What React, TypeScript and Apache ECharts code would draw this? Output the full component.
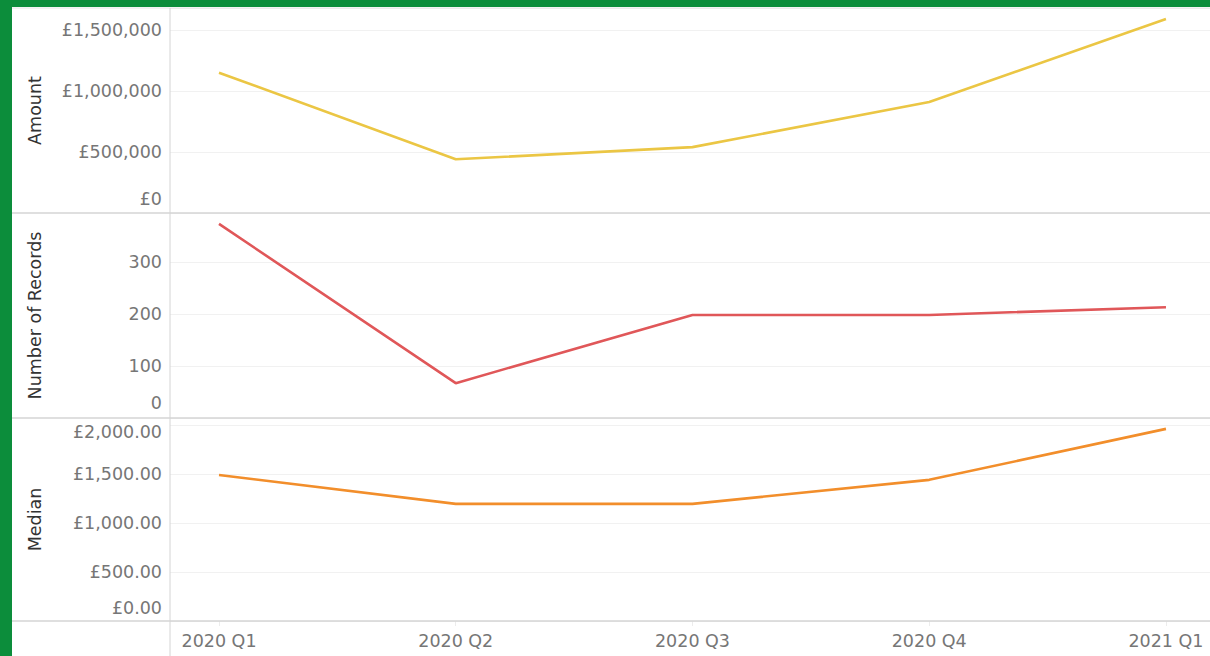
import React, { useEffect, useRef } from "react";
import * as echarts from "echarts";

const categories = ["2020 Q1", "2020 Q2", "2020 Q3", "2020 Q4", "2021 Q1"];
const amount = [1150000, 440000, 540000, 910000, 1590000];
const records = [373, 67, 198, 198, 213];
const median = [1490, 1195, 1195, 1440, 1960];
const amountTicks = [0, 500000, 1000000, 1500000];
const recordTicks = [0, 100, 200, 300];
const medianTicks = [0, 500, 1000, 1500, 2000];

const FONT = "DejaVu Sans";
const FS = 17.5;
const LABEL_COLOR = "#767676";
const TITLE_COLOR = "#333333";
const GRID_COLOR = "#f1f1f1";
const SEP_COLOR = "#d4d4d4";
const GREEN = "#0c8d3b";

const fmtInt = (v: number) => Math.round(v).toLocaleString("en-GB");
const fmt2 = (v: number) =>
  v.toLocaleString("en-GB", { minimumFractionDigits: 2, maximumFractionDigits: 2 });

export default function App() {
  const ref = useRef<HTMLDivElement>(null);
  useEffect(() => {
    if (!ref.current) return;
    const chart = echarts.init(ref.current, null, { renderer: "svg" });
    const L = 170;
    const grids = [
      { left: L, right: 0, top: 8, height: 205 },
      { left: L, right: 0, top: 213, height: 205 },
      { left: L, right: 0, top: 418, height: 203 },
    ];
    const xMin = -0.207;
    const xMax = 4.186;
    const xAxes = grids.map((_, i) => ({
      type: "value",
      gridIndex: i,
      min: xMin,
      max: xMax,
      splitLine: { show: false },
      axisLine: { show: false },
      axisTick:
        i === 2
          ? { show: true, customValues: [0, 1, 2, 3, 4], length: 5, lineStyle: { color: "#ececec" } }
          : { show: false },
      axisLabel:
        i === 2
          ? {
              show: true,
              customValues: [0, 1, 2, 3, 4],
              formatter: (v: number) => categories[Math.round(v)] ?? "",
              color: LABEL_COLOR,
              fontFamily: FONT,
              fontSize: FS,
              margin: 11,
            }
          : { show: false },
    }));
    const base = { color: LABEL_COLOR, fontFamily: FONT, fontSize: FS };
    const rich = {
      lo: { ...base, padding: [0, 0, 28, 0] },
      lo2: { ...base, padding: [0, 0, 30, 0] },
      lo3: { ...base, padding: [0, 0, 26, 0] },
      hi: { ...base, padding: [14, 0, 0, 0] },
      n: { ...base },
    };
    const yBase = (i: number, name: string, max: number, interval: number, ticks: number[], fmt: (v: number) => string) => ({
      type: "value",
      gridIndex: i,
      min: 0,
      max,
      interval,
      name,
      nameLocation: "middle",
      nameGap: 126,
      nameRotate: 90,
      nameTextStyle: { color: TITLE_COLOR, fontFamily: FONT, fontSize: 17.5 },
      axisLine: { show: false },
      axisTick: { show: false },
      splitLine: { show: true, lineStyle: { color: GRID_COLOR, width: 1 } },
      axisLabel: {
        customValues: ticks,
        margin: 8,
        formatter: fmt,
        rich,
      },
    });
    const yAxes = [
      yBase(0, "Amount", 1680000, 500000, amountTicks, (v: number) =>
        v === 0 ? "{lo|£0}" : "{n|£" + fmtInt(v) + "}"
      ),
      yBase(1, "Number of Records", 394, 100, recordTicks, (v: number) =>
        v === 0 ? "{lo2|0}" : "{n|" + fmtInt(v) + "}"
      ),
      yBase(2, "Median", 2071, 500, medianTicks, (v: number) =>
        v === 0 ? "{lo3|£0.00}" : v === 2000 ? "{hi|£" + fmt2(v) + "}" : "{n|£" + fmt2(v) + "}"
      ),
    ];
    const mk = (i: number, data: number[], color: string, name: string) => ({
      type: "line",
      name,
      xAxisIndex: i,
      yAxisIndex: i,
      data: data.map((v, k) => [k, v]),
      symbol: "none",
      lineStyle: { color, width: 2.6 },
      itemStyle: { color },
    });
    const hline = (y: number) => ({
      type: "line",
      shape: { x1: 12, y1: y, x2: 1210, y2: y },
      style: { stroke: SEP_COLOR, lineWidth: 1.5 },
      z: 10,
    });
    chart.setOption({
      animation: false,
      backgroundColor: "#ffffff",
      grid: grids,
      xAxis: xAxes,
      yAxis: yAxes,
      series: [
        mk(0, amount, "#ebc644", "Amount"),
        mk(1, records, "#e05759", "Number of Records"),
        mk(2, median, "#f28e2b", "Median"),
      ],
      graphic: [
        { type: "line", shape: { x1: 12, y1: 8, x2: 1210, y2: 8 }, style: { stroke: "#e6e6e6", lineWidth: 1 }, z: 10 },
        hline(213),
        hline(418),
        hline(621),
        {
          type: "line",
          shape: { x1: 170, y1: 8, x2: 170, y2: 656 },
          style: { stroke: SEP_COLOR, lineWidth: 1 },
          z: 10,
        },
        { type: "rect", shape: { x: 0, y: 0, width: 1210, height: 7 }, style: { fill: GREEN }, z: 20 },
        { type: "rect", shape: { x: 0, y: 0, width: 12, height: 656 }, style: { fill: GREEN }, z: 20 },
      ],
    });
    return () => chart.dispose();
  }, []);
  return (
    <div
      ref={ref}
      style={{ position: "fixed", left: 0, top: 0, width: 1210, height: 656, background: "#fff" }}
    />
  );
}
